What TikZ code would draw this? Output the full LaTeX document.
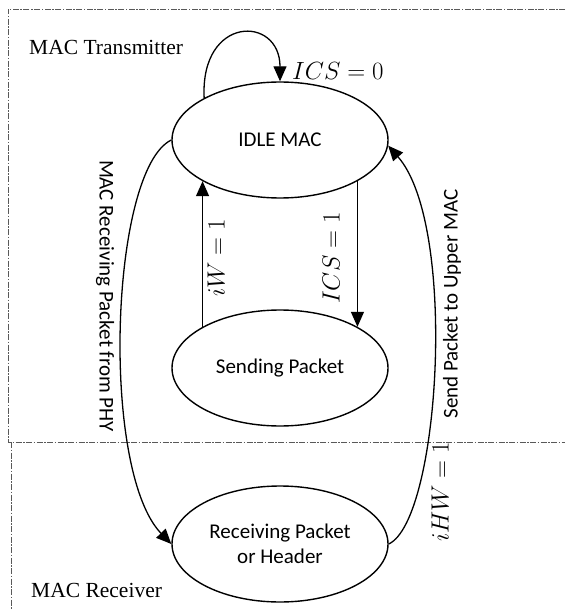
\documentclass[tikz,border=0pt]{standalone}
\usepackage{fontspec}
\setmainfont{Liberation Serif}
\newfontfamily\labelfont{Carlito}
\usetikzlibrary{shapes.geometric,arrows.meta}

\begin{document}
\begin{tikzpicture}[x=1pt,y=-1pt,
  state/.style={ellipse, draw, line width=1.4pt, minimum width=216pt, minimum height=116pt,
    inner sep=0pt, align=center, font=\labelfont\fontsize{21}{25}\selectfont},
  trans/.style={line width=1.3pt, -{Triangle[length=15pt,width=13pt]}},
  side/.style={inner sep=0pt, font=\labelfont\fontsize{21}{25}\selectfont},
  cond/.style={inner sep=0pt, font=\fontsize{23}{27}\selectfont},
  region/.style={draw=black!65, line width=0.9pt,
    dash pattern=on 6pt off 1.5pt on 1.5pt off 1.5pt},
  zone/.style={inner sep=0pt, anchor=base west, font=\fontsize{21.5}{26}\selectfont}]

\useasboundingbox (0,0) rectangle (565,609);

% transmitter and receiver regions
\draw[region] (565,9) -- (8,9) -- (8,442) -- (565,442);
\draw[region] (11,442) -- (11,609);
\node[zone] (tx) at (29,55) {MAC Transmitter};
\node[zone] (rx) at (31,597) {MAC Receiver};

% states
\node[state] (idle) at (280,140) {IDLE MAC};
\node[state] (send) at (280,368) {Sending Packet};
\node[state] (recv) at (280,544) {Receiving Packet\\or Header};

% transitions
\draw[trans] (idle.151) .. controls (200,15) and (280,15) .. (idle.north);
\node[cond, anchor=west] (c0) at (292,71) {$ICS=0$};

\draw[trans] (send.152) -- (idle.208);
\node[cond, rotate=90] (cw) at (216,258) {$iW=1$};

\draw[trans] (idle.-28) -- (send.28);
\node[cond, rotate=90] (cs) at (331,258) {$ICS=1$};

\draw[trans] (idle.west) .. controls (110,170) and (100,470) .. (recv.west);
\node[side, rotate=-90] (lrecv) at (105,296) {MAC Receiving Packet from PHY};

\draw[trans] (recv.east) .. controls (440,520) and (458,225) .. (idle.-3);
\node[side, rotate=90] (lsend) at (452,304) {Send Packet to Upper MAC};
\node[cond, rotate=90] (ch) at (440,492) {$iHW=1$};
\end{tikzpicture}
\end{document}
